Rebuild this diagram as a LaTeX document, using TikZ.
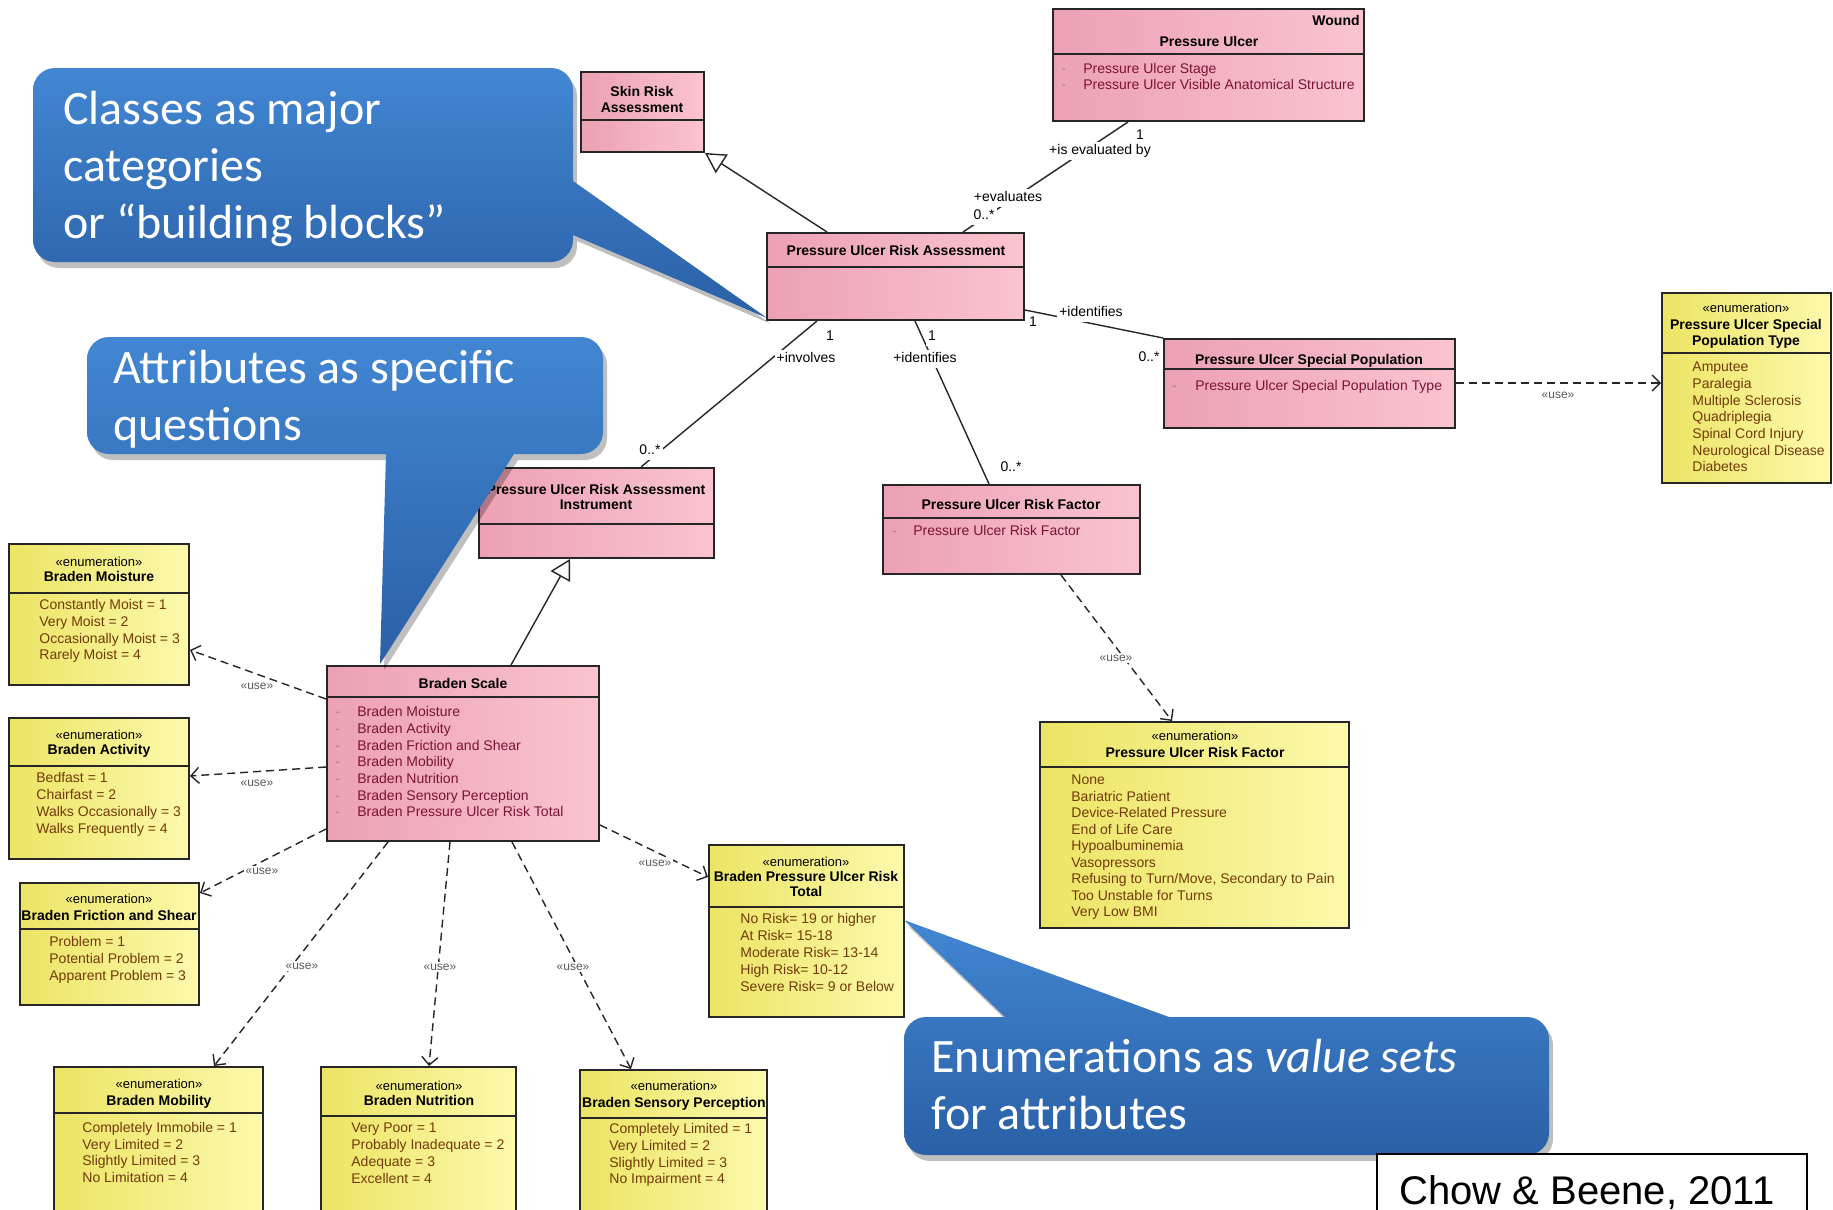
\documentclass[tikz,border=0pt]{standalone}
\usepackage{fontspec}
\setmainfont{Liberation Sans}
\newfontfamily\callfont{Carlito}
\usetikzlibrary{arrows.meta,fit}
\definecolor{pinkL}{RGB}{236,160,180}
\definecolor{pinkR}{RGB}{250,196,207}
\definecolor{yelL}{RGB}{236,228,100}
\definecolor{yelR}{RGB}{252,249,172}
\definecolor{calltop}{RGB}{66,134,210}
\definecolor{callbot}{RGB}{42,96,166}
\definecolor{attrred}{RGB}{125,20,45}
\definecolor{enumbrown}{RGB}{115,58,8}
\newcommand\pathCallA{(55,68) -- (551,68) arc[start angle=270, end angle=360, radius=22] -- (573,181) -- (767,318) -- (573,235) -- (573,240) arc[start angle=0, end angle=90, radius=22] -- (55,262) arc[start angle=90, end angle=180, radius=22] -- (33,90) arc[start angle=180, end angle=270, radius=22] -- cycle}
\newcommand\pathCallB{(109,337) -- (581,337) arc[start angle=270, end angle=360, radius=22] -- (603,432) arc[start angle=0, end angle=90, radius=22] -- (514,454) -- (380,664) -- (386,454) -- (109,454) arc[start angle=90, end angle=180, radius=22] -- (87,359) arc[start angle=180, end angle=270, radius=22] -- cycle}
\newcommand\pathCallC{(926,1017) -- (1005,1017) -- (904,920) -- (1169,1017) -- (1527,1017) arc[start angle=270, end angle=360, radius=22] -- (1549,1133) arc[start angle=0, end angle=90, radius=22] -- (926,1155) arc[start angle=90, end angle=180, radius=22] -- (904,1039) arc[start angle=180, end angle=270, radius=22] -- cycle}
\begin{document}
\begin{tikzpicture}[x=0.5pt,y=-0.5pt,
 pinkbox/.style={draw=black!85, line width=1pt, left color=pinkL, right color=pinkR, inner sep=0pt},
 yelbox/.style={draw=black!85, line width=1pt, left color=yelL, right color=yelR, inner sep=0pt},
 divl/.style={draw=black!85, line width=0.9pt},
 ttl/.style={font=\bfseries\fontsize{7}{8}\selectfont, inner sep=0pt, text height=5.2pt, text depth=1.5pt, yshift=-1pt},
 stereo/.style={font=\fontsize{6.5}{7}\selectfont, inner sep=0pt, text height=4.8pt, text depth=1.4pt, yshift=-1pt},
 pitem/.style={font=\fontsize{7}{8}\selectfont, text=attrred, anchor=west, inner sep=0pt, text height=5.2pt, text depth=1.5pt, yshift=-1pt},
 pdash/.style={pitem, text=attrred!55},
 yitem/.style={font=\fontsize{7}{8}\selectfont, text=enumbrown, anchor=west, inner sep=0pt, text height=5.2pt, text depth=1.5pt, yshift=-1pt},
 role/.style={font=\fontsize{7}{8}\selectfont, inner sep=1pt, fill=white, text height=5.2pt, text depth=1.5pt},
 uselbl/.style={font=\fontsize{6}{7}\selectfont, text=black!65, inner sep=1pt, fill=white},
 assoc/.style={line width=0.7pt, draw=black!85},
 gen/.style={assoc, -{Triangle[length=10pt, width=11pt, fill=white]}},
 dep/.style={assoc, dash pattern=on 4pt off 2.5pt, -{Straight Barb[length=4pt, width=8pt]}},
 callout/.style={top color=calltop, bottom color=callbot},
 calltext/.style={font=\callfont\fontsize{24}{28.5}\selectfont, text=white, anchor=base west, inner sep=0pt}
]
\useasboundingbox (0,0) rectangle (1833,1210);
\fill[white] (0,0) rectangle (1833,1210);
\clip (0,0) rectangle (1833,1210);

% ---------- classes (pink) ----------
\node[pinkbox, fit={(581,72)(704,152)}] (sra) {};
\draw[divl] (sra.west |- 0,120) -- (sra.east |- 0,120);
\node[ttl] (sraT1) at (642,91) {Skin Risk};
\node[ttl] (sraT2) at (642,107) {Assessment};

\node[pinkbox, fit={(1053,9)(1364,121)}] (pu) {};
\draw[divl] (pu.west |- 0,54) -- (pu.east |- 0,54);
\node[ttl, anchor=east] (puW) at (1360,20) {Wound};
\node[ttl] (puT) at (1209,41) {Pressure Ulcer};
\node[pdash] (puD1) at (1061,68) {-};
\node[pitem] (puA1) at (1083,68) {Pressure Ulcer Stage};
\node[pdash] (puD2) at (1061,84) {-};
\node[pitem] (puA2) at (1083,84) {Pressure Ulcer Visible Anatomical Structure};

\node[pinkbox, fit={(767,233)(1024,320)}] (pura) {};
\draw[divl] (pura.west |- 0,267) -- (pura.east |- 0,267);
\node[ttl] (puraT) at (896,250) {Pressure Ulcer Risk Assessment};

\node[pinkbox, fit={(1164,339)(1455,428)}] (pusp) {};
\draw[divl] (pusp.west |- 0,369) -- (pusp.east |- 0,369);
\node[ttl] (puspT) at (1309,359) {Pressure Ulcer Special Population};
\node[pdash] (puspD) at (1172,385) {-};
\node[pitem] (puspA) at (1195,385) {Pressure Ulcer Special Population Type};

\node[pinkbox, fit={(479,468)(714,558)}] (purai) {};
\draw[divl] (purai.west |- 0,524) -- (purai.east |- 0,524);
\node[ttl] (puraiT1) at (596,489) {Pressure Ulcer Risk Assessment};
\node[ttl] (puraiT2) at (596,504) {Instrument};

\node[pinkbox, fit={(883,485)(1140,574)}] (purfc) {};
\draw[divl] (purfc.west |- 0,518) -- (purfc.east |- 0,518);
\node[ttl] (purfcT) at (1011,504) {Pressure Ulcer Risk Factor};
\node[pdash] (purfcD) at (892,530) {-};
\node[pitem] (purfcA) at (913,530) {Pressure Ulcer Risk Factor};

\node[pinkbox, fit={(327,666)(599,841)}] (bs) {};
\draw[divl] (bs.west |- 0,697) -- (bs.east |- 0,697);
\node[ttl] (bsT) at (463,683) {Braden Scale};
\foreach \t [count=\i from 0] in {Braden Moisture, Braden Activity, Braden Friction and Shear, Braden Mobility, Braden Nutrition, Braden Sensory Perception, Braden Pressure Ulcer Risk Total}{
  \node[pdash, name=bsD\i] at (335,{711+\i*16.7}) {-};
  \node[pitem, name=bsA\i] at (357,{711+\i*16.7}) {\t};
}

% ---------- enumerations (yellow) ----------
\node[yelbox, fit={(1662,293)(1831,483)}] (puspt) {};
\draw[divl] (puspt.west |- 0,353) -- (puspt.east |- 0,353);
\node[stereo] (pusptS) at (1746,307) {«enumeration»};
\node[ttl] (pusptT1) at (1746,324) {Pressure Ulcer Special};
\node[ttl] (pusptT2) at (1746,340) {Population Type};
\foreach \t [count=\i from 0] in {Amputee, Paralegia, Multiple Sclerosis, Quadriplegia, Spinal Cord Injury, Neurological Disease, Diabetes}
  \node[yitem, name=pusptI\i] at (1692,{366+\i*16.7}) {\t};

\node[yelbox, fit={(1040,722)(1349,928)}] (purfe) {};
\draw[divl] (purfe.west |- 0,767) -- (purfe.east |- 0,767);
\node[stereo] (purfeS) at (1195,735) {«enumeration»};
\node[ttl] (purfeT) at (1195,752) {Pressure Ulcer Risk Factor};
\foreach \t [count=\i from 0] in {None, Bariatric Patient, Device-Related Pressure, End of Life Care, Hypoalbuminemia, Vasopressors, {Refusing to Turn/Move, Secondary to Pain}, Too Unstable for Turns, Very Low BMI}
  \node[yitem, name=purfeI\i] at (1071,{779+\i*16.5}) {\t};

\node[yelbox, fit={(709,845)(904,1017)}] (brt) {};
\draw[divl] (brt.west |- 0,907) -- (brt.east |- 0,907);
\node[stereo] (brtS) at (806,861) {«enumeration»};
\node[ttl] (brtT1) at (806,876) {Braden Pressure Ulcer Risk};
\node[ttl] (brtT2) at (806,891) {Total};
\foreach \t [count=\i from 0] in {No Risk= 19 or higher, At Risk= 15-18, Moderate Risk= 13-14, High Risk= 10-12, Severe Risk= 9 or Below}
  \node[yitem, name=brtI\i] at (740,{918+\i*17}) {\t};

\node[yelbox, fit={(9,544)(189,685)}] (bm) {};
\draw[divl] (bm.west |- 0,593) -- (bm.east |- 0,593);
\node[stereo] (bmS) at (99,561) {«enumeration»};
\node[ttl] (bmT) at (99,576) {Braden Moisture};
\foreach \t [count=\i from 0] in {Constantly Moist = 1, Very Moist = 2, Occasionally Moist = 3, Rarely Moist = 4}
  \node[yitem, name=bmI\i] at (39,{604+\i*16.7}) {\t};

\node[yelbox, fit={(9,718)(189,859)}] (ba) {};
\draw[divl] (ba.west |- 0,766) -- (ba.east |- 0,766);
\node[stereo] (baS) at (99,734) {«enumeration»};
\node[ttl] (baT) at (99,749) {Braden Activity};
\foreach \t [count=\i from 0] in {Bedfast = 1, Chairfast = 2, Walks Occasionally = 3, Walks Frequently = 4}
  \node[yitem, name=baI\i] at (36,{777+\i*16.9}) {\t};

\node[yelbox, fit={(20,883)(199,1005)}] (bf) {};
\draw[divl] (bf.west |- 0,929) -- (bf.east |- 0,929);
\node[stereo] (bfS) at (109,898) {«enumeration»};
\node[ttl] (bfT) at (109,915) {Braden Friction and Shear};
\foreach \t [count=\i from 0] in {Problem = 1, Potential Problem = 2, Apparent Problem = 3}
  \node[yitem, name=bfI\i] at (49,{941+\i*17}) {\t};

\node[yelbox, fit={(54,1067)(263,1215)}] (bmo) {};
\draw[divl] (bmo.west |- 0,1113) -- (bmo.east |- 0,1113);
\node[stereo] (bmoS) at (159,1083) {«enumeration»};
\node[ttl] (bmoT) at (159,1100) {Braden Mobility};
\foreach \t [count=\i from 0] in {Completely Immobile = 1, Very Limited = 2, Slightly Limited = 3, No Limitation = 4}
  \node[yitem, name=bmoI\i] at (82,{1127+\i*16.5}) {\t};

\node[yelbox, fit={(321,1067)(516,1215)}] (bn) {};
\draw[divl] (bn.west |- 0,1116) -- (bn.east |- 0,1116);
\node[stereo] (bnS) at (419,1085) {«enumeration»};
\node[ttl] (bnT) at (419,1100) {Braden Nutrition};
\foreach \t [count=\i from 0] in {Very Poor = 1, Probably Inadequate = 2, Adequate = 3, Excellent = 4}
  \node[yitem, name=bnI\i] at (351,{1127+\i*17}) {\t};

\node[yelbox, fit={(580,1070)(767,1215)}] (bsp) {};
\draw[divl] (bsp.west |- 0,1118) -- (bsp.east |- 0,1118);
\node[stereo] (bspS) at (674,1085) {«enumeration»};
\node[ttl] (bspT) at (674,1102) {Braden Sensory Perception};
\foreach \t [count=\i from 0] in {Completely Limited = 1, Very Limited = 2, Slightly Limited = 3, No Impairment = 4}
  \node[yitem, name=bspI\i] at (609,{1128+\i*16.7}) {\t};

% ---------- connectors ----------
\draw[gen] (pura.north -| 827,0) -- (sra.south east);
\draw[gen] (bs.north -| 511,0) -- (purai.south -| 570,0);
\draw[assoc] (pu.south -| 1128,0) -- (pura.north -| 963,0);
\draw[assoc] (pura.east |- 0,310) -- (pusp.north west);
\draw[assoc] (pura.south -| 817,0) -- (purai.north -| 641,0);
\draw[assoc] (pura.south -| 915,0) -- (purfc.north -| 989,0);
\draw[dep] (purfc.south -| 1061,0) -- (purfe.north -| 1172,0);
\draw[dep] (pusp.east |- 0,383) -- (puspt.west |- 0,383);
\draw[dep] (bs.west |- 0,699) -- (bm.east |- 0,650);
\draw[dep] (bs.west |- 0,767) -- (ba.east |- 0,776);
\draw[dep] (bs.west |- 0,829) -- (bf.east |- 0,893);
\draw[dep] (bs.south -| 388,0) -- (bmo.north -| 214,0);
\draw[dep] (bs.south -| 450,0) -- (bn.north -| 429,0);
\draw[dep] (bs.south -| 512,0) -- (bsp.north -| 631,0);
\draw[dep] (bs.east |- 0,825) -- (brt.west |- 0,877);

% ---------- connector labels ----------
\node[role] (m1) at (1140,136) {1};
\node[role] (r1) at (1100,151) {+is evaluated by};
\node[role] (r2) at (1008,198) {+evaluates};
\node[role] (m2) at (984,216) {0..*};
\node[role] (r3) at (1091,313) {+identifies};
\node[role] (m3) at (1033,323) {1};
\node[role] (m4) at (1149,358) {0..*};
\node[role] (m5) at (830,337) {1};
\node[role] (r4) at (806,359) {+involves};
\node[role] (m6) at (650,451) {0..*};
\node[role] (m7) at (932,337) {1};
\node[role] (r5) at (925,359) {+identifies};
\node[role] (m8) at (1011,468) {0..*};
\node[uselbl] (u1) at (1558,395) {«use»};
\node[uselbl] (u2) at (1116,658) {«use»};
\node[uselbl] (u3) at (257,686) {«use»};
\node[uselbl] (u4) at (257,783) {«use»};
\node[uselbl] (u5) at (262,871) {«use»};
\node[uselbl] (u6) at (302,966) {«use»};
\node[uselbl] (u7) at (440,967) {«use»};
\node[uselbl] (u8) at (573,967) {«use»};
\node[uselbl] (u9) at (655,863) {«use»};

% ---------- callouts ----------
\fill[black, opacity=0.25, shift={(4,6)}] \pathCallA;
\path[callout] \pathCallA;
\node[calltext] (c1a) at (63,124) {Classes as major};
\node[calltext] (c1b) at (63,181) {categories};
\node[calltext] (c1c) at (63,238) {or “building blocks”};

\fill[black, opacity=0.25, shift={(4,6)}] \pathCallB;
\path[callout] \pathCallB;
\node[calltext] (c2a) at (113,383) {Attributes as specific};
\node[calltext] (c2b) at (113,440) {questions};

\fill[black, opacity=0.25, shift={(4,6)}] \pathCallC;
\path[callout] \pathCallC;
\node[calltext] (c3a) at (931,1072) {Enumerations as \textit{value sets}};
\node[calltext] (c3b) at (931,1129) {for attributes};

% ---------- citation ----------
\draw[line width=1.2pt, fill=white] (1377,1154) rectangle (1807,1216);
\node[font=\fontsize{20}{24}\selectfont, anchor=base west, inner sep=0pt] (cite) at (1399,1204) {Chow \& Beene, 2011};
\end{tikzpicture}
\end{document}
